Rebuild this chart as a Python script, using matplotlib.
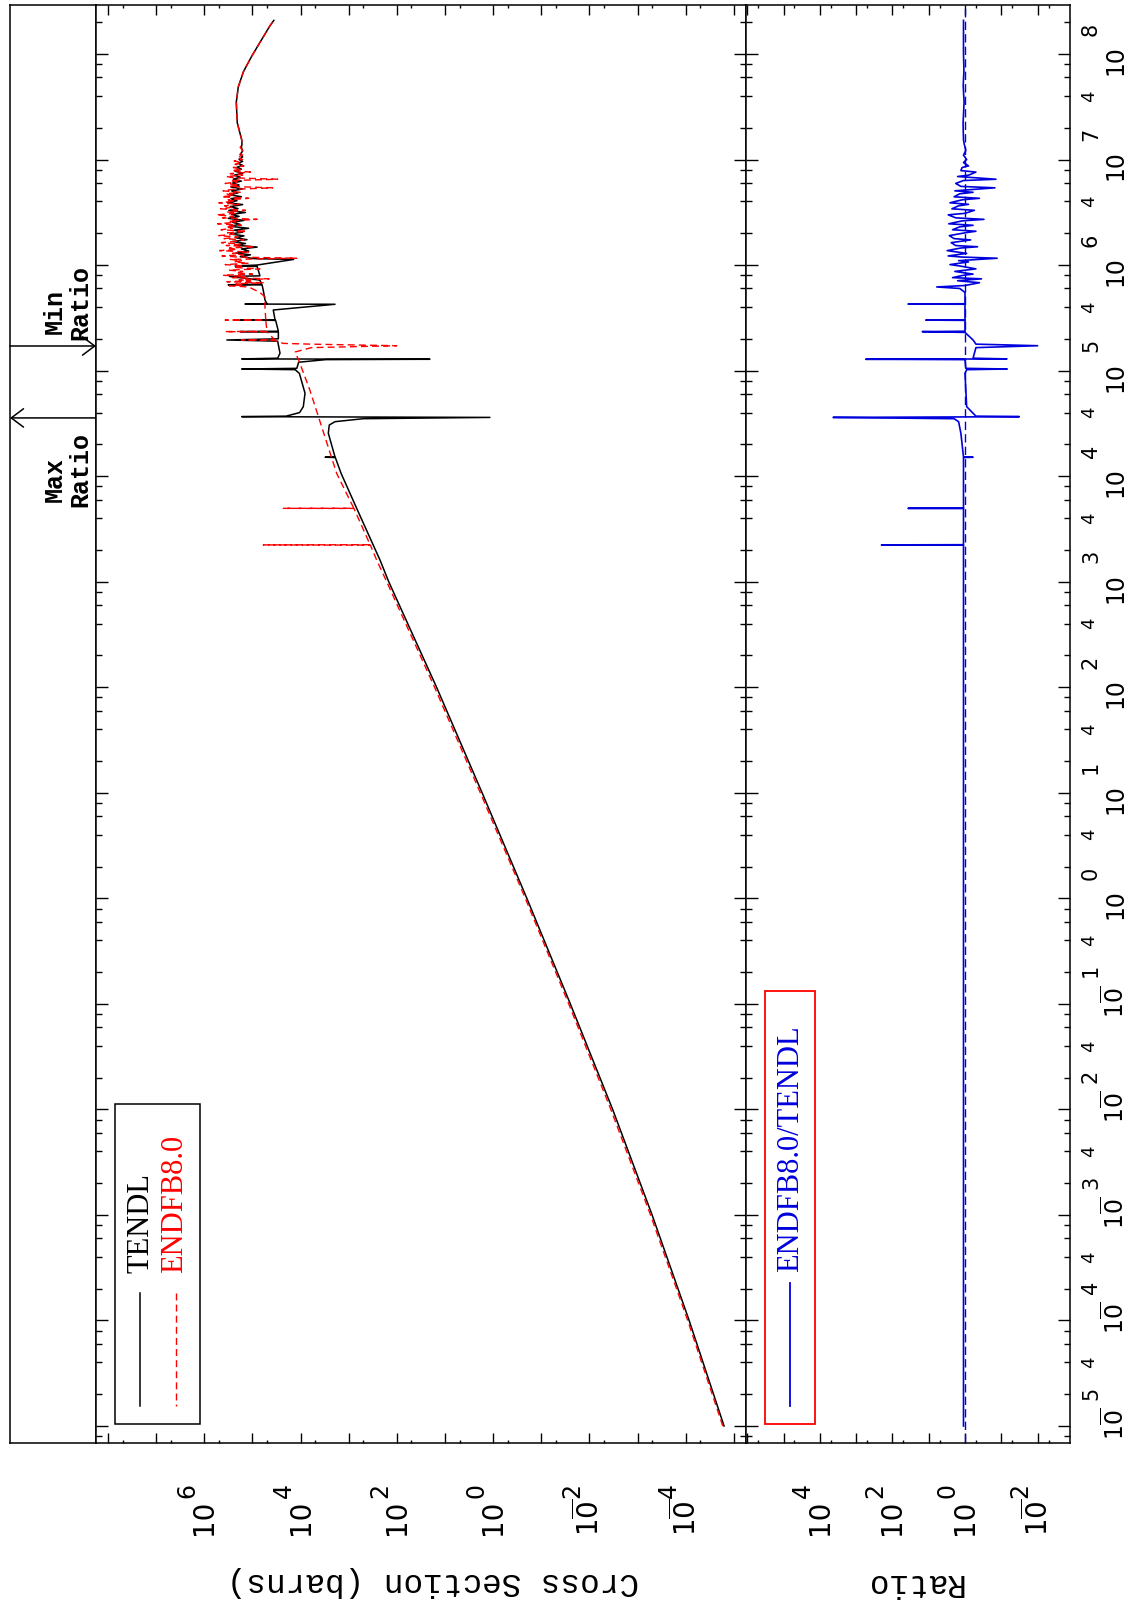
import matplotlib.pyplot as plt
from matplotlib.ticker import FixedLocator, NullFormatter
from matplotlib.transforms import offset_copy
from matplotlib.patches import Rectangle
from matplotlib.lines import Line2D

W, H = 1132, 1604

# TENDL cross section: (energy eV, cross section barns)
tendl = [(1e-5, 1.6e-5), (1e-4, 8.5e-5), (1e-3, 5.0e-4), (1e-2, 3.3e-3), (0.1, 2.5e-2),
         (1, 0.2), (10, 1.7), (100, 15), (1e3, 148), (1.6e3, 224), (4.95e3, 684),
         (1.06e4, 1440), (1.50e4, 1900), (1.51e4, 3090), (1.52e4, 1930), (2.55e4, 2660),
         (3.05e4, 2540), (3.28e4, 1930), (3.5e4, 500), (3.60e4, 1.17), (3.63e4, 500),
         (3.66e4, 1.67e5), (3.70e4, 2.0e4), (4.0e4, 1.05e4), (4.55e4, 8800), (6.1e4, 8100),
         (9.4e4, 1.06e4), (1.02e5, 1.3e4), (1.035e5, 1.67e5), (1.05e5, 1.2e4), (1.2e5, 1.1e4),
         (1.27e5, 3000), (1.28e5, 20.6), (1.29e5, 1.67e5), (1.31e5, 3.0e4), (1.46e5, 2.68e4),
         (1.9e5, 3.0e4), (1.95e5, 3.4e5), (2.0e5, 2.9e4), (2.32e5, 2.9e4), (2.34e5, 1.8e5),
         (2.36e5, 2.9e4), (2.99e5, 3.3e4), (3.01e5, 1.8e5), (3.03e5, 3.4e4), (3.75e5, 3.7e4),
         (4.25e5, 1930), (4.27e5, 1.43e5), (4.3e5, 5.0e4), (4.67e5, 5.5e4), (5.6e5, 5.9e4),
         (6.48e5, 6.3e4), (6.5e5, 3.2e5), (6.6e5, 6.5e4), (7.2e5, 7.0e4), (7.8e5, 3.0e5),
         (7.9e5, 7e4), (9.7e5, 8e4), (9.8e5, 2.3e5), (1.0e6, 8e4), (1.13e6, 1.4e4),
         (1.15e6, 9e4), (1.2e6, 1.8e5), (1.25e6, 1.1e5), (1.3e6, 2.2e5), (1.36e6, 1.2e5),
         (1.42e6, 1.7e5), (1.48e6, 8.0e4), (1.54e6, 2.1e5), (1.6e6, 1.4e5), (1.67e6, 2.6e5),
         (1.74e6, 1.3e5), (1.81e6, 2.2e5), (1.89e6, 1.5e5), (1.97e6, 2.9e5), (2.05e6, 1.6e5),
         (2.14e6, 2.4e5), (2.23e6, 1.2e5), (2.33e6, 3.0e5), (2.43e6, 1.8e5), (2.54e6, 2.6e5),
         (2.65e6, 1.5e5), (2.77e6, 3.2e5), (2.89e6, 1.9e5), (3.02e6, 2.7e5), (3.15e6, 1.4e5),
         (3.29e6, 3.1e5), (3.43e6, 2.0e5), (3.58e6, 2.9e5), (3.74e6, 1.6e5), (3.9e6, 3.3e5),
         (4.07e6, 2.1e5), (4.25e6, 2.8e5), (4.44e6, 1.7e5), (4.63e6, 3.0e5), (4.83e6, 2.0e5),
         (5.04e6, 2.7e5), (5.26e6, 1.6e5), (5.49e6, 2.8e5), (5.73e6, 1.9e5), (5.98e6, 2.6e5),
         (6.24e6, 1.7e5), (6.51e6, 2.5e5), (6.8e6, 1.8e5), (7.1e6, 2.4e5), (7.4e6, 1.6e5),
         (7.75e6, 2.3e5), (8.1e6, 1.7e5), (8.45e6, 2.1e5), (8.8e6, 1.6e5), (9.2e6, 2.0e5),
         (9.6e6, 1.6e5), (1.0e7, 1.9e5), (1.06e7, 1.6e5), (1.12e7, 1.8e5), (1.2e7, 1.6e5),
         (1.3e7, 1.7e5), (1.4e7, 1.65e5), (1.53e7, 1.67e5), (2.23e7, 2.07e5),
         (3.49e7, 2.17e5), (4.88e7, 1.97e5), (6.8e7, 1.54e5), (9.5e7, 1.04e5),
         (1.33e8, 6.7e4), (1.86e8, 4.3e4), (2.08e8, 3.6e4)]

# ENDF/B-VIII.0 cross section
endf = [(1e-5, 1.7e-5), (1e-4, 9.1e-5), (1e-3, 5.4e-4), (1e-2, 3.6e-3), (0.1, 2.7e-2),
        (1, 0.215), (10, 1.85), (100, 16.5), (1e3, 163), (1.6e3, 263), (2.22e3, 355),
        (2.23e3, 5.96e4), (2.24e3, 360), (4.94e3, 780), (4.95e3, 2.29e4), (4.96e3, 785),
        (1.06e4, 1780), (6.5e4, 6400), (1.26e5, 1.1e4), (1.5e5, 1.3e4), (1.65e5, 6000),
        (1.72e5, 101), (1.78e5, 6000), (1.81e5, 2.3e4), (1.93e5, 3.5e4), (1.95e5, 1.7e5),
        (1.97e5, 3.5e4), (2.33e5, 5e4), (2.34e5, 3.7e5), (2.36e5, 5e4), (2.99e5, 5.3e4),
        (3.01e5, 3.7e5), (3.03e5, 5.3e4), (4.0e5, 5.5e4), (5.0e5, 5.5e4), (5.5e5, 7e4),
        (6.2e5, 1.2e5), (6.35e5, 3.0e5), (6.5e5, 1.5e5), (6.65e5, 2.2e5), (6.8e5, 6.0e4),
        (6.95e5, 3.4e5), (7.1e5, 1.1e5), (7.25e5, 1.9e5), (7.4e5, 4.5e4), (7.6e5, 2.6e5),
        (7.8e5, 1.4e5), (8.0e5, 4.1e5), (8.2e5, 1.0e5), (8.45e5, 2.2e5), (8.7e5, 1.6e5),
        (8.95e5, 3.1e5), (9.2e5, 7.0e4), (9.5e5, 2.5e5), (9.8e5, 1.5e5), (1.01e6, 3.7e5),
        (1.04e6, 1.2e5), (1.07e6, 2.4e5), (1.10e6, 1.7e5), (1.13e6, 2.9e5), (1.16e6, 1.2e4),
        (1.19e6, 2.0e5), (1.22e6, 4.3e5), (1.25e6, 1.6e5), (1.29e6, 2.6e5), (1.33e6, 1.2e5),
        (1.37e6, 4.8e5), (1.41e6, 2.1e5), (1.45e6, 3.0e5), (1.49e6, 9.0e4), (1.53e6, 3.5e5),
        (1.58e6, 1.8e5), (1.63e6, 4.4e5), (1.68e6, 2.3e5), (1.73e6, 1.5e5), (1.78e6, 3.9e5),
        (1.84e6, 2.0e5), (1.90e6, 5.0e5), (1.96e6, 2.4e5), (2.02e6, 3.3e5), (2.09e6, 1.3e5),
        (2.16e6, 4.5e5), (2.23e6, 2.6e5), (2.30e6, 3.6e5), (2.38e6, 1.7e5), (2.46e6, 5.3e5),
        (2.54e6, 2.2e5), (2.62e6, 3.1e5), (2.71e6, 8.0e4), (2.80e6, 4.2e5), (2.89e6, 2.5e5),
        (2.99e6, 5.6e5), (3.09e6, 2.1e5), (3.19e6, 3.4e5), (3.30e6, 1.4e5), (3.41e6, 4.6e5),
        (3.52e6, 2.7e5), (3.64e6, 3.8e5), (3.76e6, 1.9e5), (3.89e6, 5.0e5), (4.02e6, 2.3e5),
        (4.15e6, 3.2e5), (4.29e6, 1.2e5), (4.43e6, 4.4e5), (4.58e6, 2.4e5), (4.73e6, 3.6e5),
        (4.89e6, 1.8e5), (5.05e6, 4.1e5), (5.22e6, 2.5e5), (5.39e6, 3.8e4), (5.56e6, 3.0e5),
        (5.74e6, 1.9e5), (5.93e6, 3.7e5), (6.12e6, 2.1e5), (6.32e6, 2.9e5), (6.5e6, 3.0e4),
        (6.7e6, 2.4e5), (6.9e6, 3.5e5), (7.1e6, 1.6e5), (7.35e6, 2.9e5), (7.6e6, 1.1e5),
        (7.85e6, 2.7e5), (8.1e6, 1.7e5), (8.4e6, 2.5e5), (8.7e6, 1.5e5), (9.0e6, 2.3e5),
        (9.35e6, 1.7e5), (9.7e6, 2.4e5), (1.0e7, 1.6e5), (1.05e7, 2.1e5), (1.1e7, 1.6e5),
        (1.15e7, 1.9e5), (1.22e7, 1.6e5), (1.3e7, 1.8e5), (1.4e7, 1.65e5), (1.53e7, 1.67e5),
        (2.23e7, 2.07e5), (3.49e7, 2.17e5), (4.88e7, 1.97e5), (6.8e7, 1.54e5),
        (9.5e7, 1.04e5), (1.33e8, 6.7e4), (1.86e8, 4.3e4), (2.08e8, 3.6e4)]

# ENDFB8.0 / TENDL ratio
ratio = [(1e-5, 1.1), (1e3, 1.1), (2.22e3, 1.1), (2.23e3, 200), (2.24e3, 1.1),
         (4.94e3, 1.1), (4.95e3, 37), (4.96e3, 1.1), (1.5e4, 1.1), (1.51e4, 0.6),
         (1.52e4, 1.1), (2.55e4, 1.3), (3.28e4, 1.5), (3.5e4, 2.0), (3.60e4, 4300),
         (3.63e4, 5), (3.66e4, 0.032), (3.70e4, 0.5), (4.55e4, 0.9), (9.4e4, 1.0),
         (1.02e5, 0.9), (1.035e5, 0.069), (1.05e5, 0.95), (1.27e5, 1.0), (1.28e5, 540),
         (1.29e5, 0.07), (1.31e5, 0.6), (1.65e5, 0.5), (1.72e5, 0.01), (1.78e5, 0.5),
         (1.95e5, 0.6), (2.3e5, 1.0), (2.34e5, 15), (2.36e5, 1.0), (2.99e5, 1.0),
         (3.01e5, 12), (3.03e5, 1.0), (4.25e5, 1.0), (4.27e5, 37), (4.3e5, 1.0),
         (5.5e5, 1.0), (6.0e5, 1.4), (6.2e5, 6.0), (6.4e5, 1.0), (6.8e5, 0.4),
         (7.1e5, 1.6), (7.4e5, 0.35), (7.6e5, 2.2), (8.0e5, 1.1), (8.2e5, 0.6),
         (8.7e5, 1.9), (9.2e5, 0.5), (9.8e5, 1.4), (1.01e6, 2.6), (1.07e6, 0.8),
         (1.10e6, 1.5), (1.16e6, 0.13), (1.19e6, 1.2), (1.22e6, 2.9), (1.29e6, 0.9),
         (1.37e6, 3.1), (1.45e6, 1.3), (1.49e6, 0.45), (1.53e6, 1.8), (1.63e6, 2.4),
         (1.73e6, 0.7), (1.78e6, 2.0), (1.90e6, 2.7), (2.02e6, 1.0), (2.09e6, 0.5),
         (2.16e6, 2.2), (2.30e6, 1.4), (2.38e6, 0.6), (2.46e6, 2.8), (2.62e6, 1.2),
         (2.71e6, 0.3), (2.80e6, 1.8), (2.99e6, 2.9), (3.09e6, 1.0), (3.30e6, 0.55),
         (3.41e6, 2.3), (3.64e6, 1.5), (3.76e6, 0.8), (3.89e6, 2.6), (4.15e6, 1.2),
         (4.29e6, 0.4), (4.43e6, 2.0), (4.73e6, 1.4), (4.89e6, 0.6), (5.05e6, 1.9),
         (5.39e6, 0.15), (5.56e6, 1.3), (5.93e6, 1.8), (6.32e6, 1.1), (6.5e6, 0.14),
         (6.9e6, 1.6), (7.1e6, 0.8), (7.6e6, 0.5), (7.85e6, 1.3), (8.4e6, 1.2),
         (8.7e6, 0.8), (9.35e6, 1.1), (1.0e7, 0.9), (1.1e7, 1.1), (1.22e7, 0.95),
         (1.4e7, 1.05), (1.53e7, 1.1), (2.2e7, 1.13), (3.5e7, 1.06), (5e7, 1.12),
         (7e7, 1.07), (1e8, 1.1), (2.08e8, 1.1)]

unity = [(7e-6, 1.0), (2.9e8, 1.0)]  # ratio = 1 reference line

e_max_ratio = 3.56e4
e_min_ratio = 1.71e5

energy_lim = (6.9e-6, 2.91e8)
xs_lim = (1.78e8, 5.6e-6)
ratio_lim = (1.08e6, 1.28e-3)

energy_decades = list(range(-5, 9))
xs_label_decades = [6, 4, 2, 0, -2, -4]
ratio_label_decades = [4, 2, 0, -2]

BLUE = '#0000dd'


def px(x, y):
    return x / W, 1 - y / H


def box(x0, x1):
    return [x0 / W, 1 - 1443 / H, (x1 - x0) / W, 1438 / H]


fig = plt.figure(figsize=(W / 100, H / 100), dpi=100)
ax_s = fig.add_axes(box(10, 96))
ax_x = fig.add_axes(box(96, 746))
ax_r = fig.add_axes(box(746, 1070))

e_major = [10.0 ** n for n in energy_decades]
e_minor = [k * 10.0 ** n for n in range(-6, 9) for k in (2, 4, 6, 8)]

for ax in (ax_s, ax_x, ax_r):
    ax.set_yscale('log')
    ax.set_ylim(energy_lim)
    for sp in ax.spines.values():
        sp.set_linewidth(1.1)
    ax.yaxis.set_major_locator(FixedLocator(e_major))
    ax.yaxis.set_minor_locator(FixedLocator(e_minor))
    ax.yaxis.set_major_formatter(NullFormatter())
    ax.yaxis.set_minor_formatter(NullFormatter())

ax_s.set_xlim(0, 1)
ax_s.set_xticks([])
ax_s.tick_params(axis='y', which='both', left=False, right=False)

for ax, lim, xmaj, xmin in ((ax_x, xs_lim, range(-5, 9), range(-6, 8)),
                            (ax_r, ratio_lim, range(-2, 7), range(-3, 6))):
    ax.set_xscale('log')
    ax.set_xlim(lim)
    ax.xaxis.set_major_locator(FixedLocator([10.0 ** n for n in xmaj]))
    ax.xaxis.set_minor_locator(FixedLocator([5 * 10.0 ** n for n in xmin]))
    ax.xaxis.set_major_formatter(NullFormatter())
    ax.xaxis.set_minor_formatter(NullFormatter())
    ax.tick_params(axis='x', which='major', direction='in', length=7.2, width=1,
                   top=True, bottom=True)
    ax.tick_params(axis='x', which='minor', direction='in', length=2.2, width=1,
                   top=True, bottom=True)
    ax.tick_params(axis='y', which='major', direction='in', length=8.6, width=1,
                   left=True, right=True)
    ax.tick_params(axis='y', which='minor', direction='in', length=4.3, width=1,
                   left=True, right=True)

# curves (energy runs up the page, so energy goes on the y axis)
e_t, s_t = zip(*tendl)
e_e, s_e = zip(*endf)
e_r, r_r = zip(*ratio)
e_u, r_u = zip(*unity)
ax_x.plot(s_t, e_t, color='black', lw=1.1)
ax_x.plot(s_e, e_e, color='red', lw=1.0, ls=(0, (5, 3)))
ax_r.plot(r_u, e_u, color=BLUE, lw=1.0, ls=(0, (6, 3)))
ax_r.plot(r_r, e_r, color=BLUE, lw=1.2)


def put(ax, x, y, s, trans, dx, dy, size):
    t = offset_copy(trans, fig=fig, x=dx, y=dy, units='dots')
    ax.text(x, y, s, transform=t, rotation=90, ha='center', va='center',
            fontsize=size)


def power_label(ax, x, y, n, trans, base, expo, size, esize):
    # "10" with a full size exponent; a negative sign is a bar over the 0
    b = '10' if n >= 0 else r'$\mathregular{1\overline{0}}$'
    put(ax, x, y, b, trans, base[0], base[1], size)
    put(ax, x, y, str(abs(n)), trans, expo[0], expo[1], esize)


# energy tick labels (right side)
tr_e = ax_r.get_yaxis_transform()
for n in energy_decades:
    dy = -6 if n >= 0 else 2
    power_label(ax_r, 1.0, 10.0 ** n, n, tr_e, (45, dy), (21, dy + 31), 17, 15)
for n in range(-5, 8):
    put(ax_r, 1.0, 4 * 10.0 ** n, '4', tr_e, 19, 0, 13)

# cross section / ratio tick labels (bottom)
for ax, decs in ((ax_x, xs_label_decades), (ax_r, ratio_label_decades)):
    tr = ax.get_xaxis_transform()
    for n in decs:
        power_label(ax, 10.0 ** n, 0, n, tr, (0, -74), (-17, -48), 20, 17)

fig.text(*px(433, 1582), 'Cross Section (barns)', rotation=180, ha='center',
         va='center', family='Liberation Mono', fontsize=23.5)
fig.text(*px(913, 1582), 'Ratio', rotation=180, ha='center', va='center',
         family='Liberation Mono', fontsize=23.5)

# max / min ratio markers
arrow = dict(arrowstyle='->, head_length=0.4, head_width=0.3', lw=1.1,
             color='black', mutation_scale=22, shrinkA=0, shrinkB=0)
tr_s = ax_s.get_yaxis_transform()
ax_s.annotate('', xy=(1, e_min_ratio), xytext=(0, e_min_ratio), xycoords=tr_s,
              textcoords=tr_s, arrowprops=arrow)
ax_s.annotate('', xy=(0, e_max_ratio), xytext=(1, e_max_ratio), xycoords=tr_s,
              textcoords=tr_s, arrowprops=arrow)
for txt, x, y in (('Min', 55, 311), ('Ratio', 80.5, 302.5),
                  ('Max', 55, 479), ('Ratio', 80.5, 469.5)):
    fig.text(*px(x, y), txt, rotation=90, ha='center', va='center',
             family='Liberation Mono', fontsize=18, fontweight='bold')

# legend: cross sections
fig.add_artist(Rectangle(px(115, 1424), 85 / W, 320 / H, transform=fig.transFigure,
                         fill=False, ec='black', lw=1.1))
fig.add_artist(Line2D([140 / W] * 2, [1 - 1293 / H, 1 - 1406 / H], color='black',
                      lw=1.1, transform=fig.transFigure))
fig.add_artist(Line2D([176 / W] * 2, [1 - 1293 / H, 1 - 1406 / H], color='red',
                      lw=1.0, ls=(0, (5, 3)), transform=fig.transFigure))
fig.text(*px(141, 1273), 'TENDL', rotation=90, ha='center', va='bottom',
         family='Liberation Serif', fontsize=22, color='black')
fig.text(*px(175, 1273), 'ENDFB8.0', rotation=90, ha='center', va='bottom',
         family='Liberation Serif', fontsize=22, color='red')

# legend: ratio
fig.add_artist(Rectangle(px(765, 1424), 50 / W, 433 / H, transform=fig.transFigure,
                         fill=False, ec='red', lw=1.3))
fig.add_artist(Line2D([790 / W] * 2, [1 - 1283 / H, 1 - 1406 / H], color=BLUE,
                      lw=1.3, transform=fig.transFigure))
fig.text(*px(791, 1272), 'ENDFB8.0/TENDL', rotation=90, ha='center', va='bottom',
         family='Liberation Serif', fontsize=22, color=BLUE)

fig.savefig('out.png', dpi=100)
